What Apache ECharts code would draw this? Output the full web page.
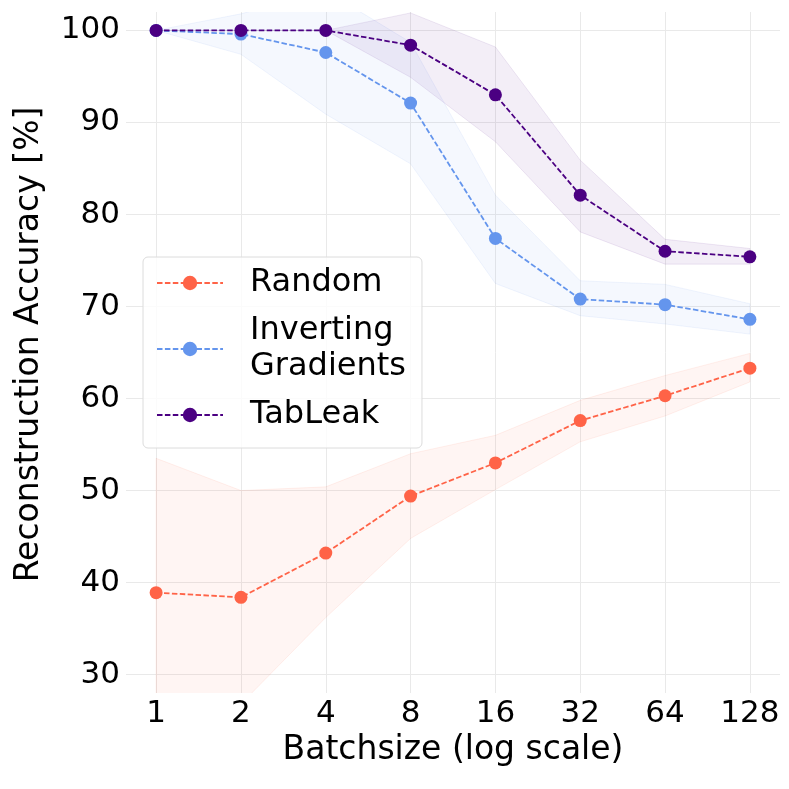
<!DOCTYPE html>
<html>
<head>
<meta charset="utf-8">
<script src="https://cdn.jsdelivr.net/npm/echarts@6.0.0/dist/echarts.min.js"></script>
<style>
    html, body { margin: 0; padding: 0; background: #fff; }
    #chart { width: 789px; height: 789px; }
</style>
</head>
<body>
<div id="chart"></div>
<script>
const batchSizes = [1, 2, 4, 8, 16, 32, 64, 128];
const methods = ['Random', 'Inverting Gradients', 'TabLeak'];
const colors = ['#FF6347', '#6495ED', '#4B0082'];

// mean accuracy and the shaded band (mean +/- std) per method
const randomMean = [38.9, 38.4, 43.2, 49.4, 53.0, 57.6, 60.3, 63.3];
const randomUpper = [53.5, 50.0, 50.4, 54.0, 56.0, 59.8, 62.5, 64.9];
const randomLower = [24.3, 26.8, 36.2, 44.8, 50.1, 55.3, 58.1, 61.8];

const igMean = [100.0, 99.6, 97.6, 92.1, 77.4, 70.8, 70.2, 68.6];
const igUpper = [100.0, 101.8, 104.3, 98.7, 82.1, 72.8, 72.4, 70.3];
const igLower = [100.0, 97.4, 90.9, 85.5, 72.5, 69.0, 68.1, 67.0];

const tabMean = [100.0, 100.0, 100.0, 98.4, 93.0, 82.1, 76.0, 75.4];
const tabUpper = [100.0, 100.0, 100.0, 101.9, 98.2, 85.9, 77.3, 76.3];
const tabLower = [100.0, 100.0, 100.0, 94.9, 87.9, 78.1, 74.6, 74.6];

const yTicks = [30, 40, 50, 60, 70, 80, 90, 100];

const means = [randomMean, igMean, tabMean];
const uppers = [randomUpper, igUpper, tabUpper];
const lowers = [randomLower, igLower, tabLower];

const FONT = 'DejaVu Sans';
const GRID_COLOR = '#e9e9e9';
const CLEAR = 'rgba(0,0,0,0)';

function fade(hex, alpha) {
    const n = parseInt(hex.slice(1), 16);
    return `rgba(${(n >> 16) & 255},${(n >> 8) & 255},${n & 255},${alpha})`;
}

// one polygon per method: upper edge left->right, lower edge right->left
function bandRenderer(color) {
    return function(params, api) {
        if (params.dataIndexInside !== 0) {
            return null;
        }
        const count = batchSizes.length;
        const top = [];
        const bottom = [];
        for (let i = 0; i < count; i++) {
            const x = api.value(0, i);
            top.push(api.coord([x, api.value(2, i)]));
            bottom.push(api.coord([x, api.value(1, i)]));
        }
        return {
            type: 'polygon',
            shape: {points: top.concat(bottom.reverse())},
            style: {fill: fade(color, 0.065), stroke: fade(color, 0.09), lineWidth: 1},
            silent: true,
        };
    };
}

const bandSeries = methods.map((name, m) => ({
    type: 'custom',
    name: name + ' band',
    data: batchSizes.map((b, i) => [b, lowers[m][i], uppers[m][i]]),
    encode: {x: 0, y: [1, 2]},
    renderItem: bandRenderer(colors[m]),
    clip: true,
    silent: true,
    z: 1,
}));

const lineSeries = methods.map((name, m) => ({
    type: 'line',
    name: name,
    data: batchSizes.map((b, i) => [b, means[m][i]]),
    symbol: 'circle',
    symbolSize: 13,
    showAllSymbol: true,
    itemStyle: {color: colors[m]},
    lineStyle: {color: colors[m], width: 1.8, type: [5.5, 2.4]},
    z: 3,
}));

// y grid: ticks every 2 from 28, only multiples of 10 get a line and label
const ySplitColors = [CLEAR, GRID_COLOR, CLEAR, CLEAR, CLEAR];
// x grid: extra ticks at the fixed min / max stay invisible
const xSplitColors = [CLEAR].concat(batchSizes.map(() => GRID_COLOR), [CLEAR]);

const option = {
    backgroundColor: '#fff',
    animation: false,
    textStyle: {fontFamily: FONT},
    grid: {left: 126, right: 9, top: 12, bottom: 96},
    xAxis: {
        type: 'log',
        logBase: 2,
        min: Math.pow(2, -0.355),
        max: Math.pow(2, 7.355),
        splitNumber: 8,
        name: 'Batchsize (log scale)',
        nameLocation: 'middle',
        nameGap: 34,
        nameTextStyle: {fontSize: 33, color: '#000', fontFamily: FONT},
        axisLine: {show: false},
        axisTick: {show: false},
        axisLabel: {
            fontSize: 31,
            color: '#000',
            fontFamily: FONT,
            margin: 5,
            showMinLabel: false,
            showMaxLabel: false,
            formatter: v => (batchSizes.indexOf(Math.round(v)) >= 0 && Math.abs(Math.round(v) - v) < 1e-6) ? String(Math.round(v)) : '',
        },
        splitLine: {show: true, lineStyle: {color: xSplitColors, width: 1}},
    },
    yAxis: {
        type: 'value',
        min: 28,
        max: 102,
        interval: 2,
        name: 'Reconstruction Accuracy [%]',
        nameLocation: 'middle',
        nameGap: 80,
        nameTextStyle: {fontSize: 33, color: '#000', fontFamily: FONT, padding: [0, 0, 0, 16]},
        axisLine: {show: false},
        axisTick: {show: false},
        axisLabel: {
            fontSize: 31,
            color: '#000',
            fontFamily: FONT,
            margin: 6,
            formatter: v => (yTicks.indexOf(v) >= 0 ? String(v) : ''),
        },
        splitLine: {show: true, lineStyle: {color: ySplitColors, width: 1}},
    },
    legend: {
        data: methods,
        orient: 'vertical',
        left: 143,
        top: 257,
        padding: [8, 16, 15, 13],
        itemGap: 12,
        itemWidth: 66,
        itemHeight: 18,
        backgroundColor: 'rgba(255,255,255,0.8)',
        borderColor: '#dcdcdc',
        borderWidth: 1,
        borderRadius: 5,
        formatter: name => name.replace(' ', '\n'),
        textStyle: {fontSize: 32, lineHeight: 36, color: '#000', fontFamily: FONT, padding: [0, 0, 0, 22]},
    },
    series: bandSeries.concat(lineSeries),
};

const myChart = echarts.init(document.getElementById('chart'), null, {renderer: 'canvas'});
myChart.setOption(option);
</script>
</body>
</html>
